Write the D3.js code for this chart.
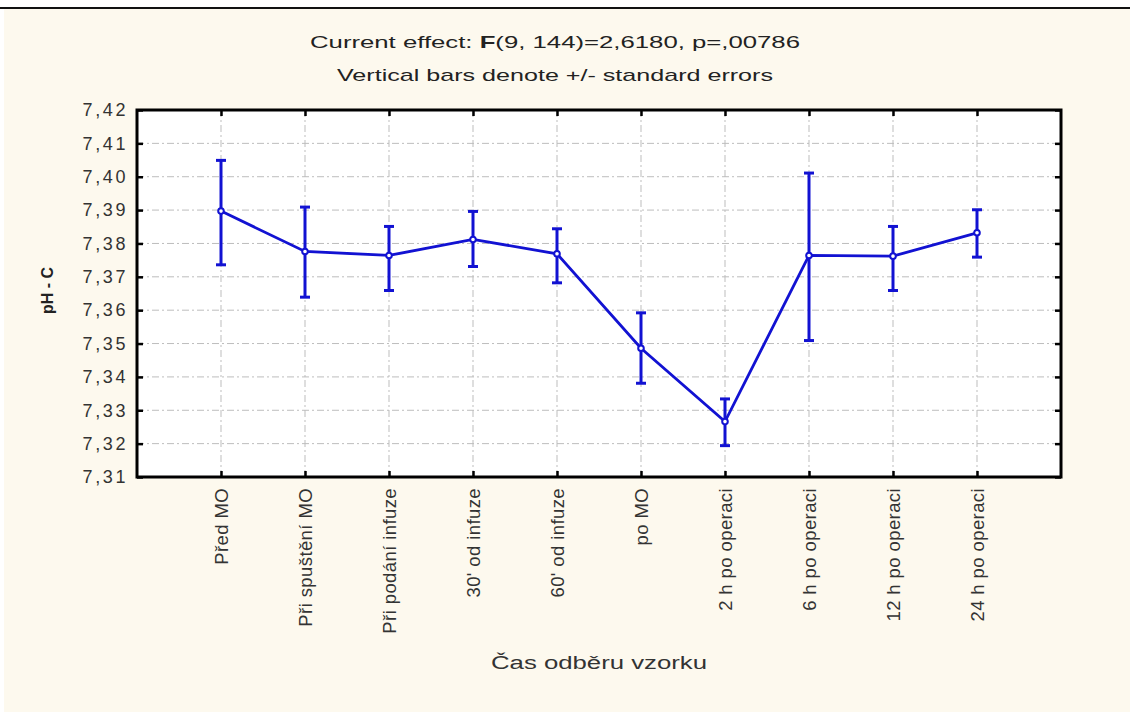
<!DOCTYPE html>
<meta charset="utf-8">
<script src="https://d3js.org/d3.v7.min.js"></script>
<style>
  body { margin: 0; background: #ffffff; }
  svg { display: block; }
  text { font-family: "Liberation Sans", Arial, sans-serif; fill: #222; }
</style>
<body>
<div id="my_dataviz"></div>
<script>

// data
var categories = ["Před MO", "Při spuštění MO", "Při podání infuze", "30' od infuze", "60' od infuze",
                  "po MO", "2 h po operaci", "6 h po operaci", "12 h po operaci", "24 h po operaci"];
var means = [7.3897, 7.3776, 7.3764, 7.3812, 7.3769, 7.3486, 7.3266, 7.3764, 7.3762, 7.3832];
var upper = [7.4049, 7.3909, 7.3851, 7.3896, 7.3844, 7.3592, 7.3334, 7.4011, 7.3851, 7.3901];
var lower = [7.3736, 7.3639, 7.3659, 7.3731, 7.3682, 7.3381, 7.3194, 7.3509, 7.3659, 7.3759];
var yTicks = [7.31, 7.32, 7.33, 7.34, 7.35, 7.36, 7.37, 7.38, 7.39, 7.40, 7.41, 7.42];

var W = 1130, H = 717;
var margin = {top: 110, right: 69, bottom: 240, left: 137},
    width = W - margin.left - margin.right,
    height = H - margin.top - margin.bottom;

var root = d3.select("#my_dataviz")
  .append("svg")
    .attr("width", W)
    .attr("height", H);

// cream figure background + top rule
root.append("rect")
  .attr("x", 4).attr("y", 9).attr("width", W - 4).attr("height", 703)
  .attr("fill", "#fdf9ee");
root.append("line")
  .attr("x1", 0).attr("x2", W).attr("y1", 8).attr("y2", 8)
  .attr("stroke", "#111").attr("stroke-width", 2);

// titles (stretched like the original)
var t1 = root.append("text")
  .attr("x", 310).attr("y", 48)
  .attr("textLength", 490)
  .attr("lengthAdjust", "spacingAndGlyphs")
  .style("font-size", "17px");
t1.append("tspan").text("Current effect: ");
t1.append("tspan").style("font-weight", "bold").text("F");
t1.append("tspan").text("(9, 144)=2,6180, p=,00786");

root.append("text")
  .attr("x", 337).attr("y", 81)
  .attr("textLength", 436)
  .attr("lengthAdjust", "spacingAndGlyphs")
  .style("font-size", "17px")
  .text("Vertical bars denote +/- standard errors");

var svg = root.append("g")
  .attr("transform", "translate(" + margin.left + "," + margin.top + ")");

var x = d3.scalePoint()
  .domain(categories)
  .range([0, width])
  .padding(1);

var y = d3.scaleLinear()
  .domain([7.31, 7.42])
  .range([height, 0]);

var fmt = function(d) { return d3.format(".2f")(d).replace(".", ","); };

// plot background
svg.append("rect")
  .attr("width", width).attr("height", height)
  .attr("fill", "#ffffff");

// grid
svg.append("g")
  .selectAll("line")
  .data(yTicks.slice(1, -1))
  .enter().append("line")
    .attr("x1", 0).attr("x2", width)
    .attr("y1", function(d) { return y(d); })
    .attr("y2", function(d) { return y(d); })
    .attr("stroke", "#bdbdbd")
    .attr("stroke-dasharray", "7,3,2,3");
svg.append("g")
  .selectAll("line")
  .data(categories)
  .enter().append("line")
    .attr("y1", 0).attr("y2", height)
    .attr("x1", function(d) { return x(d); })
    .attr("x2", function(d) { return x(d); })
    .attr("stroke", "#bdbdbd")
    .attr("stroke-dasharray", "7,3,2,3");

// Y axis (ticks inside the box)
var yAxis = svg.append("g")
  .call(d3.axisLeft(y).tickValues(yTicks).tickFormat(fmt).tickSize(-6).tickPadding(9));
yAxis.select(".domain").remove();
yAxis.selectAll("line").attr("stroke", "#000").attr("stroke-width", 2.5);
yAxis.selectAll("text")
  .style("font-size", "18px")
  .style("letter-spacing", "2.6px")
  .style("fill", "#333");

// right-side ticks
svg.append("g")
  .attr("transform", "translate(" + width + ",0)")
  .call(d3.axisRight(y).tickValues(yTicks).tickFormat("").tickSize(-6))
  .call(function(g) { g.select(".domain").remove(); })
  .selectAll("line").attr("stroke", "#000").attr("stroke-width", 2.5);

// X axis
var xAxis = svg.append("g")
  .attr("transform", "translate(0," + height + ")")
  .call(d3.axisBottom(x).tickSize(-6).tickPadding(12));
xAxis.select(".domain").remove();
xAxis.selectAll("line").attr("stroke", "#000").attr("stroke-width", 2.5);
xAxis.selectAll("text")
  .attr("transform", "rotate(-90)")
  .attr("x", -11)
  .attr("y", 0)
  .attr("dy", "0.35em")
  .style("text-anchor", "end")
  .style("font-size", "18.5px")
  .style("letter-spacing", "0.4px")
  .style("fill", "#333");

svg.append("g")
  .call(d3.axisTop(x).tickSize(-6).tickFormat(""))
  .call(function(g) { g.select(".domain").remove(); })
  .selectAll("line").attr("stroke", "#000").attr("stroke-width", 2.5);

// frame
svg.append("rect")
  .attr("width", width).attr("height", height)
  .attr("fill", "none")
  .attr("stroke", "#000")
  .attr("stroke-width", 3);

// axis titles
svg.append("text")
  .attr("transform", "rotate(-90)")
  .attr("x", -height / 2 + 3)
  .attr("y", -84)
  .style("text-anchor", "middle")
  .style("font-size", "16px")
  .style("font-weight", "bold")
  .text("pH - C");

svg.append("text")
  .attr("x", width / 2 - 108)
  .attr("y", height + 192)
  .attr("textLength", 216)
  .attr("lengthAdjust", "spacingAndGlyphs")
  .style("font-size", "18px")
  .style("fill", "#333")
  .text("Čas odběru vzorku");

// series
var blue = "#1212d2";
var pts = categories.map(function(c, i) { return {c: c, m: means[i], hi: upper[i], lo: lower[i]}; });

svg.append("path")
  .datum(pts)
  .attr("fill", "none")
  .attr("stroke", blue)
  .attr("stroke-width", 2.8)
  .attr("d", d3.line().x(function(d) { return x(d.c); }).y(function(d) { return y(d.m); }));

var eb = svg.append("g").selectAll("g")
  .data(pts)
  .enter().append("g");
eb.append("line")
  .attr("x1", function(d) { return x(d.c); })
  .attr("x2", function(d) { return x(d.c); })
  .attr("y1", function(d) { return y(d.hi); })
  .attr("y2", function(d) { return y(d.lo); })
  .attr("stroke", blue).attr("stroke-width", 3);
eb.append("line")
  .attr("x1", function(d) { return x(d.c) - 5; })
  .attr("x2", function(d) { return x(d.c) + 5; })
  .attr("y1", function(d) { return y(d.hi); })
  .attr("y2", function(d) { return y(d.hi); })
  .attr("stroke", blue).attr("stroke-width", 3);
eb.append("line")
  .attr("x1", function(d) { return x(d.c) - 5; })
  .attr("x2", function(d) { return x(d.c) + 5; })
  .attr("y1", function(d) { return y(d.lo); })
  .attr("y2", function(d) { return y(d.lo); })
  .attr("stroke", blue).attr("stroke-width", 3);
eb.append("circle")
  .attr("cx", function(d) { return x(d.c); })
  .attr("cy", function(d) { return y(d.m); })
  .attr("r", 2.8)
  .attr("fill", "#ffffff")
  .attr("stroke", blue)
  .attr("stroke-width", 2);

</script>
</body>
